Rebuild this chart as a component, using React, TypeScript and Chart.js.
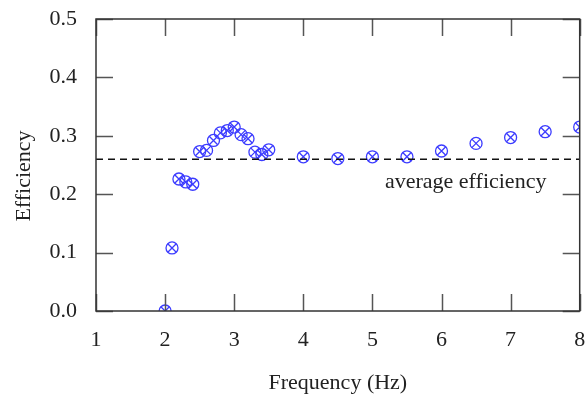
import React, { useEffect, useRef } from "react";
import { Chart, registerables } from "chart.js";
Chart.register(...registerables);

const frequencies = [2.0, 2.1, 2.2, 2.3, 2.4, 2.5, 2.6, 2.7, 2.8, 2.9, 3.0, 3.1, 3.2, 3.3, 3.4, 3.5, 4.0, 4.5, 5.0, 5.5, 6.0, 6.5, 7.0, 7.5, 8.0];
const efficiency = [0.0, 0.108, 0.226, 0.221, 0.217, 0.273, 0.275, 0.292, 0.305, 0.309, 0.315, 0.302, 0.295, 0.272, 0.268, 0.276, 0.264, 0.261, 0.264, 0.264, 0.274, 0.287, 0.297, 0.307, 0.315];
const averageEfficiency = 0.26;
const averageLabel = "average efficiency";
const averageLabelX = 6.35;
const xTickValues = [1, 2, 3, 4, 5, 6, 7, 8];
const yTickValues = [0.0, 0.1, 0.2, 0.3, 0.4, 0.5];
const xTitle = "Frequency (Hz)";
const yTitle = "Efficiency";

const FONT = "'Liberation Serif', 'Times New Roman', serif";
const TEXT = "#222222";
const MARK = "#3c3cff";

const framePlugin = {
  id: "frame",
  afterDatasetsDraw(chart: any) {
    const { ctx, chartArea, scales } = chart;
    const x = scales.x;
    const y = scales.y;
    ctx.save();
    // average label
    ctx.font = `22px ${FONT}`;
    ctx.fillStyle = TEXT;
    ctx.textAlign = "center";
    ctx.textBaseline = "middle";
    ctx.fillText(averageLabel, x.getPixelForValue(averageLabelX), y.getPixelForValue(averageEfficiency) + 23);
    // ticks
    const len = 17;
    ctx.strokeStyle = "#555555";
    ctx.lineWidth = 1.5;
    ctx.beginPath();
    xTickValues.forEach((v) => {
      const px = Math.round(x.getPixelForValue(v)) + 0.5;
      ctx.moveTo(px, chartArea.bottom);
      ctx.lineTo(px, chartArea.bottom - len);
      ctx.moveTo(px, chartArea.top);
      ctx.lineTo(px, chartArea.top + len);
    });
    yTickValues.forEach((v) => {
      const py = Math.round(y.getPixelForValue(v)) + 0.5;
      ctx.moveTo(chartArea.left, py);
      ctx.lineTo(chartArea.left + len, py);
      ctx.moveTo(chartArea.right, py);
      ctx.lineTo(chartArea.right - len, py);
    });
    ctx.stroke();
    // frame
    ctx.strokeStyle = "#333333";
    ctx.lineWidth = 1.5;
    ctx.strokeRect(chartArea.left, chartArea.top, chartArea.right - chartArea.left, chartArea.bottom - chartArea.top);
    // titles
    ctx.fillStyle = TEXT;
    ctx.font = `22px ${FONT}`;
    ctx.textAlign = "center";
    ctx.textBaseline = "alphabetic";
    ctx.fillText(xTitle, (chartArea.left + chartArea.right) / 2, 389);
    ctx.save();
    ctx.translate(30, (chartArea.top + chartArea.bottom) / 2 + 11);
    ctx.rotate(-Math.PI / 2);
    ctx.fillText(yTitle, 0, 0);
    ctx.restore();
    ctx.restore();
  },
};

const noPad = (s: any) => {
  s.paddingTop = 0;
  s.paddingBottom = 0;
  s.paddingLeft = 0;
  s.paddingRight = 0;
};

export default function App() {
  const ref = useRef<HTMLCanvasElement>(null);
  useEffect(() => {
    if (!ref.current) return;
    const pts = frequencies.map((f, i) => ({ x: f, y: efficiency[i] }));
    const chart = new Chart(ref.current, {
      type: "scatter",
      data: {
        datasets: [
          {
            type: "line",
            data: [
              { x: xTickValues[0], y: averageEfficiency },
              { x: xTickValues[xTickValues.length - 1], y: averageEfficiency },
            ],
            borderColor: "#111111",
            borderWidth: 1.5,
            borderDash: [7, 5],
            pointRadius: 0,
            fill: false,
          } as any,
          {
            data: pts,
            pointStyle: "circle",
            pointRadius: 6,
            borderColor: MARK,
            backgroundColor: "rgba(0,0,0,0)",
            borderWidth: 1.3,
            clip: 0,
          } as any,
          {
            data: pts,
            pointStyle: "crossRot",
            pointRadius: 6,
            borderColor: MARK,
            backgroundColor: "rgba(0,0,0,0)",
            borderWidth: 1.3,
            clip: 0,
          } as any,
        ],
      },
      options: {
        animation: false,
        responsive: false,
        maintainAspectRatio: false,
        events: [],
        layout: { padding: { left: 0, right: 5, top: 19, bottom: 0 } },
        plugins: { legend: { display: false }, tooltip: { enabled: false } },
        scales: {
          x: {
            type: "linear",
            min: 1,
            max: 8,
            afterBuildTicks: (s: any) => {
              s.ticks = xTickValues.map((v) => ({ value: v }));
            },
            afterFit: (s: any) => {
              s.height = 84;
              noPad(s);
            },
            grid: { display: false, drawTicks: false },
            border: { display: false },
            ticks: {
              color: TEXT,
              font: { family: FONT, size: 22 },
              padding: 16,
              maxRotation: 0,
              callback: (v: any) => String(v),
            },
          },
          y: {
            type: "linear",
            min: 0,
            max: 0.5,
            afterBuildTicks: (s: any) => {
              s.ticks = yTickValues.map((v) => ({ value: v }));
            },
            afterFit: (s: any) => {
              s.width = 96;
              noPad(s);
            },
            grid: { display: false, drawTicks: false },
            border: { display: false },
            ticks: {
              color: TEXT,
              font: { family: FONT, size: 22 },
              padding: 19,
              callback: (v: any) => Number(v).toFixed(1),
            },
          },
        },
      },
      plugins: [framePlugin],
    });
    return () => chart.destroy();
  }, []);
  return (
    <div style={{ position: "absolute", left: 0, top: 0, width: 587, height: 395, background: "#fff" }}>
      <canvas ref={ref} width={587} height={395} style={{ width: 587, height: 395 }} />
    </div>
  );
}
